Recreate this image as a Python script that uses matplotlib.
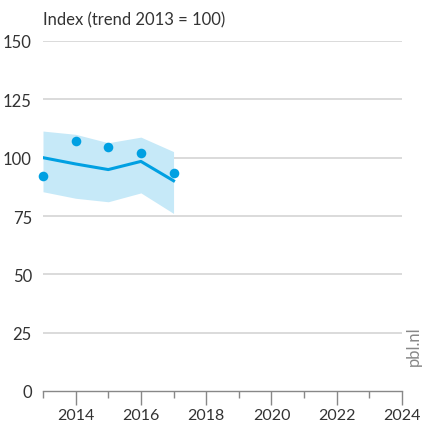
import matplotlib
matplotlib.use("Agg")
import matplotlib.pyplot as plt
from matplotlib.ticker import MultipleLocator

plt.rcParams['font.family'] = ['Lato', 'DejaVu Sans']

years = [2013, 2014, 2015, 2016, 2017]
trend = [100.0, 97.3, 94.9, 98.4, 90.1]
upper = [111.4, 110.0, 106.4, 108.8, 102.6]
lower = [85.4, 82.6, 81.1, 84.9, 76.1]
observed = [92.3, 107.1, 104.7, 102.1, 93.6]

yticks = [0, 25, 50, 75, 100, 125, 150]
xticks = [2014, 2016, 2018, 2020, 2022, 2024]

blue = '#00a0e2'
band = '#c6e9f8'

fig = plt.figure(figsize=(4.23, 4.27), dpi=100)
ax = fig.add_axes([43/423, 1-392/427, (402-43)/423, (392-42)/427])

ax.fill_between(years, lower, upper, color=band, lw=0, zorder=1)
ax.plot(years, trend, color=blue, lw=2.2, zorder=3)
ax.scatter(years, observed, s=48, color=blue, zorder=4, lw=0, clip_on=False)

ax.set_xlim(2013, 2024)
ax.set_ylim(0, 150)
ax.set_yticks(yticks)
ax.set_xticks(xticks)
ax.xaxis.set_minor_locator(MultipleLocator(1))

for y in yticks[1:]:
    ax.axhline(y, color='#d4d4d4', lw=1.2, zorder=0)

for s in ['top', 'right', 'left']:
    ax.spines[s].set_visible(False)
ax.spines['bottom'].set_color('#888888')
ax.spines['bottom'].set_linewidth(1)

ax.tick_params(axis='y', length=0, pad=8, labelsize=12, labelcolor='#333333')
ax.tick_params(axis='x', which='major', length=10, color='#888888', width=1,
               pad=2, labelsize=11.5, labelcolor='#333333')
ax.tick_params(axis='x', which='minor', length=5, color='#888888', width=1)

fig.text(43/423, 1-20/427, 'Index (trend 2013 = 100)', fontsize=12,
         color='#333333', va='center', ha='left')
fig.text(414/423, 1-346/427, 'pbl.nl', fontsize=12, color='#888888',
         rotation=90, va='center', ha='center')

fig.savefig('out.png', dpi=100)
